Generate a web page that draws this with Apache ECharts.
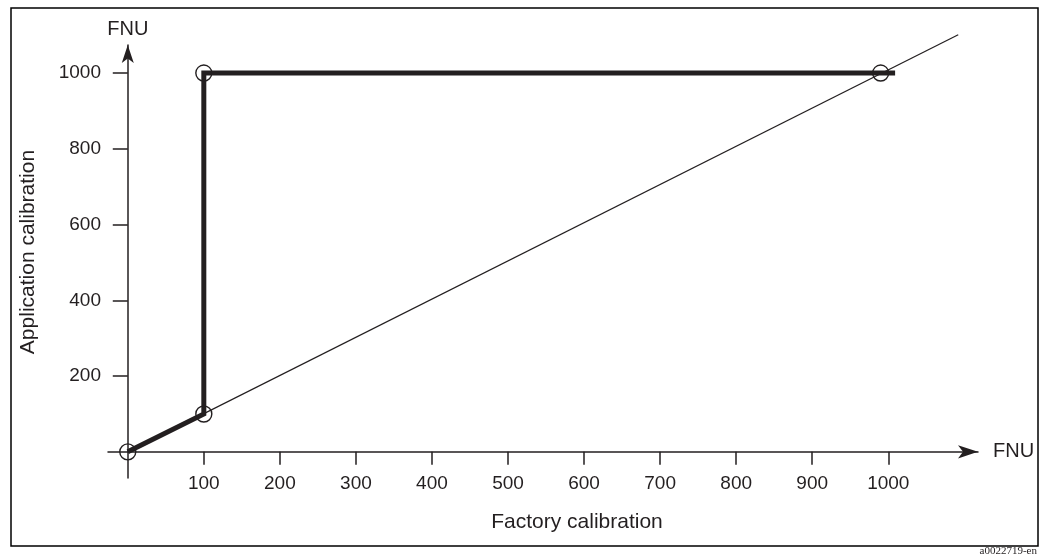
<!DOCTYPE html>
<html>
<head>
<meta charset="utf-8">
<style>
  html, body { margin: 0; padding: 0; background: #fff; }
  #chart { width: 1040px; height: 556px; }
</style>
<script src="https://cdn.jsdelivr.net/npm/echarts@6/dist/echarts.min.js"></script>
</head>
<body>
<div id="chart"></div>
<script>
// ---- data ----
const xTickValues = [100, 200, 300, 400, 500, 600, 700, 800, 900, 1000];
const yTickValues = [200, 400, 600, 800, 1000];
// thick calibration curve (factory -> application)
const curveX = [0, 100, 100, 1009];
const curveY = [0, 100, 1000, 1000];
// thin reference line (1:1)
const refX = [0, 1092];
const refY = [0, 1101];
// calibration points (hollow circles)
const pointX = [0, 100, 100, 990];
const pointY = [0, 100, 1000, 1000];

const xAxisUnit = 'FNU';
const yAxisUnit = 'FNU';
const xTitle = 'Factory calibration';
const yTitle = 'Application calibration';
const caption = 'a0022719-en';

const ink = '#231f20';
const font = "'Liberation Sans', Arial, Helvetica, sans-serif";

const zip = (a, b) => a.map((v, i) => [v, b[i]]);

const chart = echarts.init(document.getElementById('chart'), null, { renderer: 'canvas' });
chart.setOption({
  animation: false,
  backgroundColor: '#fff',
  grid: { left: 108, right: 62, top: 45, bottom: 78, containLabel: false },
  xAxis: {
    type: 'value',
    min: -26, max: 1118,
    name: xAxisUnit,
    nameLocation: 'end',
    nameGap: 15,
    nameTextStyle: { color: ink, fontSize: 20, fontFamily: font, verticalAlign: 'middle', align: 'left' },
    axisLine: {
      onZero: true,
      symbol: ['none', 'arrow'],
      symbolSize: [10, 20],
      lineStyle: { color: ink, width: 1.5 }
    },
    axisTick: { show: true, customValues: xTickValues, length: 13, lineStyle: { color: ink, width: 1.5 } },
    axisLabel: { customValues: xTickValues, margin: -4, color: ink, fontSize: 19, fontFamily: font,
      formatter: v => String(v) },
    splitLine: { show: false }
  },
  yAxis: {
    type: 'value',
    min: -69, max: 1074,
    name: yAxisUnit,
    nameLocation: 'end',
    nameGap: 6,
    nameTextStyle: { color: ink, fontSize: 20, fontFamily: font, align: 'center' },
    axisLine: {
      onZero: true,
      symbol: ['none', 'arrow'],
      symbolSize: [9, 18],
      lineStyle: { color: ink, width: 1.5 }
    },
    axisTick: { show: true, customValues: yTickValues, length: 15, lineStyle: { color: ink, width: 1.5 } },
    axisLabel: { customValues: yTickValues, margin: 7, color: ink, fontSize: 19, fontFamily: font,
      formatter: v => String(v) },
    splitLine: { show: false }
  },
  series: [
    {
      type: 'line',
      data: zip(refX, refY),
      showSymbol: false,
      clip: false,
      lineStyle: { color: ink, width: 1.2 },
      silent: true,
      z: 2
    },
    {
      type: 'line',
      data: zip(curveX, curveY),
      showSymbol: false,
      clip: false,
      lineStyle: { color: ink, width: 5, cap: 'butt', join: 'miter' },
      silent: true,
      z: 3
    },
    {
      type: 'scatter',
      data: zip(pointX, pointY),
      symbol: 'circle',
      symbolSize: 16,
      clip: false,
      itemStyle: { color: 'rgba(0,0,0,0)', borderColor: ink, borderWidth: 1.4, opacity: 1 },
      silent: true,
      z: 4
    }
  ],
  graphic: [
    {
      type: 'rect',
      shape: { x: 11, y: 8, width: 1027, height: 538 },
      style: { fill: 'none', stroke: '#000', lineWidth: 1.5 },
      silent: true
    },
    {
      type: 'text',
      x: 577, y: 522,
      style: { text: xTitle, fill: ink, fontSize: 21, fontFamily: font, align: 'center', verticalAlign: 'middle' },
      silent: true
    },
    {
      type: 'text',
      x: 28, y: 252,
      rotation: Math.PI / 2,
      style: { text: yTitle, fill: ink, fontSize: 21, fontFamily: font, align: 'center', verticalAlign: 'middle' },
      silent: true
    },
    {
      type: 'text',
      right: 3, top: 546,
      style: { text: caption, fill: ink, fontSize: 11, fontFamily: "'Liberation Serif', 'DejaVu Serif', serif" },
      silent: true
    }
  ]
});
</script>
</body>
</html>
